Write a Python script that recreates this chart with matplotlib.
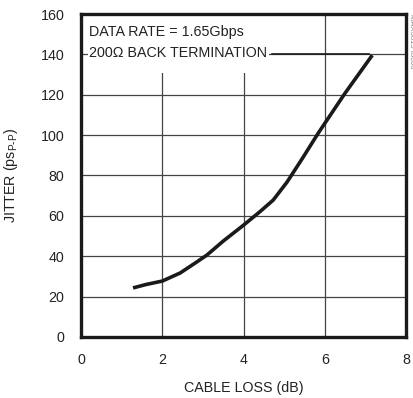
import matplotlib
matplotlib.use("Agg")
import matplotlib.pyplot as plt
from matplotlib.patches import Rectangle

plt.rcParams['font.family'] = ['Liberation Sans', 'DejaVu Sans']

cable_loss = [1.28, 1.6, 2.0, 2.44, 2.8, 3.1, 3.5, 4.0, 4.4, 4.73, 5.07, 5.45, 5.84, 6.5, 7.17]
jitter = [24.3, 26.0, 27.7, 31.7, 36.5, 40.6, 47.5, 55.4, 62.0, 67.8, 76.7, 88.5, 101.0, 120.8, 139.6]

xticks = [0, 2, 4, 6, 8]
yticks = [0, 20, 40, 60, 80, 100, 120, 140, 160]

fs = 10.3
fig = plt.figure(figsize=(4.14, 3.98), dpi=100)
ax = fig.add_axes([0.1957, 0.1533, 0.785, 0.8115])
ax.set_xlim(0, 8)
ax.set_ylim(0, 160)
ax.set_xticks(xticks)
ax.set_yticks(yticks)
ax.tick_params(length=0, labelsize=fs, colors='#222222')
ax.tick_params(axis='x', pad=11.5)
ax.tick_params(axis='y', pad=12)
for s in ax.spines.values():
    s.set_linewidth(2.4)
    s.set_color('#1a1a1a')
    s.set_zorder(6)
ax.grid(True, color='#444444', linewidth=0.9)
ax.set_axisbelow(True)

ax.add_patch(Rectangle((0.17, 131), 4.45, 29, facecolor='white', edgecolor='none', zorder=2))

ax.plot(cable_loss, jitter, color='#1a1a1a', linewidth=2.6, solid_capstyle='butt', zorder=3)

ax.set_xlabel('CABLE LOSS (dB)', fontsize=fs, color='#222222', labelpad=10)
ax.set_ylabel('JITTER (ps$_{\\mathregular{P\\text{-}P}}$)', fontsize=fs, color='#222222', labelpad=15)

ax.text(0.19, 151, 'DATA RATE = 1.65Gbps', fontsize=fs, color='#222222', va='center', ha='left', zorder=4)
ax.text(0.19, 140.5, '200Ω BACK TERMINATION', fontsize=fs, color='#222222', va='center', ha='left', zorder=4)
ax.plot([4.7, 7.1], [140, 140], color='#1a1a1a', linewidth=1.2, zorder=3)

fig.text(0.993, 0.965, 'MAX3815 toc06', rotation=270, fontsize=5.5, color='#888888', ha='center', va='top')

fig.savefig('out.png', dpi=100)
